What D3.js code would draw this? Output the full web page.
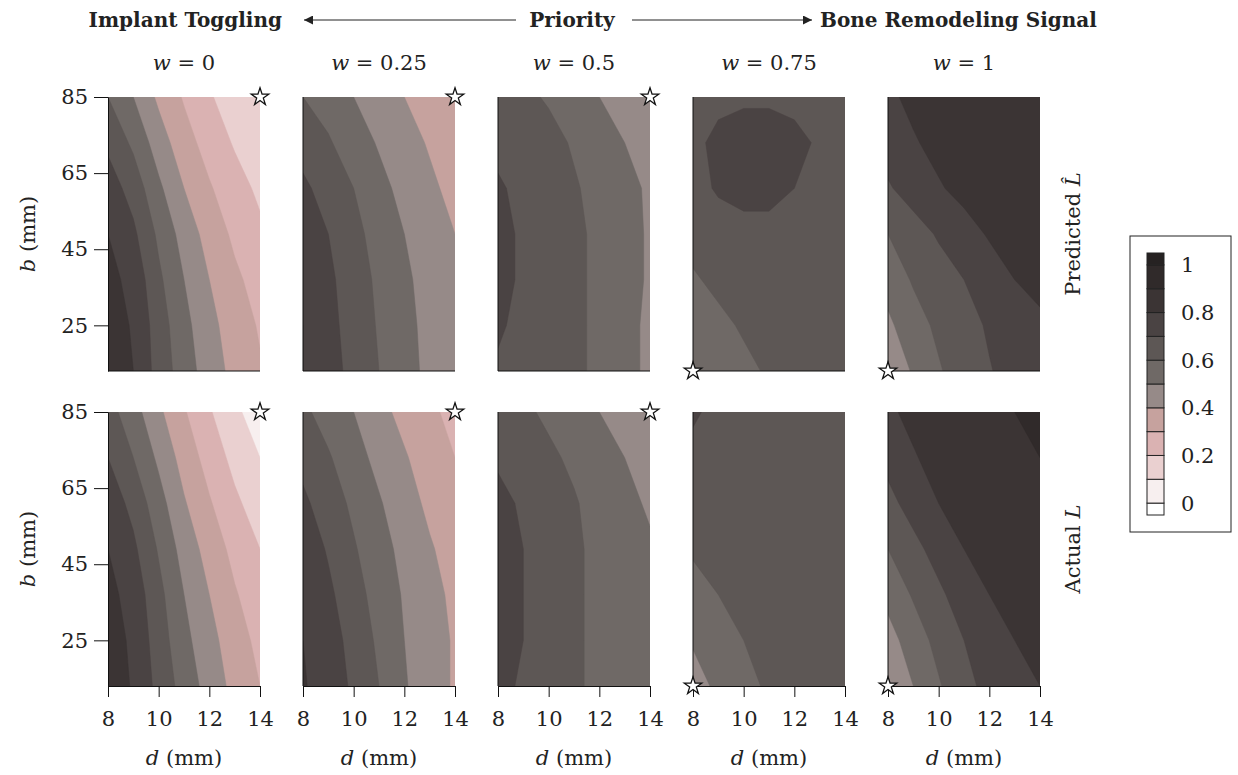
<!DOCTYPE html>
<html>
<head>
<meta charset="utf-8">
<script src="https://cdn.jsdelivr.net/npm/d3@7"></script>
<style>
  body { margin: 0; background: #fff; }
  text { font-family: "DejaVu Serif", "Liberation Serif", serif; fill: #222; }
</style>
</head>
<body>
<svg id="chart" width="1238" height="775"></svg>
<script>
// ---- data ----
const weights = ["0", "0.25", "0.5", "0.75", "1"];
const dGrid = [8, 9, 10, 11, 12, 13, 14];          // columns of each grid
const bGrid = [85, 73, 61, 49, 37, 25, 13];        // rows of each grid, top to bottom
const xTicks = [8, 10, 12, 14];
const yTicks = [25, 45, 65, 85];
const levels = [-0.05, 0, 0.1, 0.2, 0.3, 0.4, 0.5, 0.6, 0.7, 0.8, 0.9, 1.0];
const levelColors = ["#ffffff", "#f7efef", "#ead0d0", "#dab2b2", "#c6a29e", "#968a88",
                     "#6f6966", "#5d5755", "#4a4343", "#3b3434", "#302a2a", "#262222"];
const cbTicks = [0, 0.2, 0.4, 0.6, 0.8, 1];
const optimum = [[14, 85], [14, 85], [14, 85], [8, 13], [8, 13]];

// predicted L-hat, one 7x7 grid per w
const predicted = [
  [[0.60, 0.50, 0.38, 0.29, 0.21, 0.15, 0.10],
   [0.68, 0.58, 0.45, 0.34, 0.26, 0.19, 0.14],
   [0.75, 0.66, 0.52, 0.40, 0.31, 0.24, 0.18],
   [0.80, 0.72, 0.58, 0.46, 0.36, 0.28, 0.22],
   [0.83, 0.77, 0.62, 0.50, 0.40, 0.32, 0.26],
   [0.85, 0.79, 0.65, 0.53, 0.43, 0.35, 0.29],
   [0.86, 0.80, 0.66, 0.55, 0.45, 0.37, 0.31]],
  [[0.60, 0.56, 0.50, 0.45, 0.40, 0.35, 0.30],
   [0.66, 0.61, 0.55, 0.49, 0.44, 0.39, 0.34],
   [0.72, 0.66, 0.60, 0.53, 0.47, 0.42, 0.37],
   [0.77, 0.70, 0.63, 0.56, 0.50, 0.44, 0.40],
   [0.79, 0.72, 0.65, 0.58, 0.52, 0.46, 0.42],
   [0.80, 0.73, 0.66, 0.59, 0.53, 0.47, 0.43],
   [0.80, 0.74, 0.67, 0.60, 0.53, 0.48, 0.44]],
  [[0.64, 0.62, 0.59, 0.55, 0.50, 0.46, 0.43],
   [0.68, 0.66, 0.63, 0.59, 0.54, 0.50, 0.47],
   [0.71, 0.68, 0.65, 0.61, 0.57, 0.52, 0.49],
   [0.72, 0.69, 0.66, 0.62, 0.58, 0.53, 0.49],
   [0.72, 0.69, 0.66, 0.62, 0.58, 0.53, 0.49],
   [0.71, 0.68, 0.66, 0.62, 0.58, 0.53, 0.48],
   [0.69, 0.67, 0.65, 0.62, 0.58, 0.53, 0.48]],
  [[0.66, 0.68, 0.69, 0.69, 0.68, 0.66, 0.64],
   [0.68, 0.72, 0.73, 0.73, 0.72, 0.69, 0.65],
   [0.67, 0.71, 0.72, 0.72, 0.70, 0.67, 0.65],
   [0.63, 0.66, 0.68, 0.68, 0.67, 0.66, 0.65],
   [0.59, 0.62, 0.64, 0.66, 0.66, 0.65, 0.65],
   [0.56, 0.58, 0.61, 0.63, 0.64, 0.65, 0.65],
   [0.53, 0.55, 0.58, 0.61, 0.63, 0.65, 0.65]],
  [[0.78, 0.825, 0.85, 0.87, 0.88, 0.89, 0.89],
   [0.74, 0.79, 0.83, 0.86, 0.87, 0.88, 0.89],
   [0.69, 0.74, 0.79, 0.83, 0.86, 0.87, 0.88],
   [0.60, 0.66, 0.71, 0.76, 0.81, 0.84, 0.86],
   [0.54, 0.61, 0.66, 0.70, 0.75, 0.80, 0.83],
   [0.48, 0.56, 0.62, 0.67, 0.71, 0.75, 0.78],
   [0.43, 0.51, 0.59, 0.65, 0.695, 0.73, 0.76]]
];

// actual L, one 7x7 grid per w
const actual = [
  [[0.64, 0.54, 0.42, 0.31, 0.21, 0.12, 0.05],
   [0.70, 0.60, 0.48, 0.36, 0.26, 0.17, 0.10],
   [0.76, 0.67, 0.54, 0.41, 0.31, 0.22, 0.15],
   [0.80, 0.72, 0.59, 0.46, 0.36, 0.27, 0.20],
   [0.83, 0.76, 0.63, 0.50, 0.40, 0.31, 0.24],
   [0.85, 0.78, 0.65, 0.53, 0.43, 0.35, 0.27],
   [0.86, 0.79, 0.67, 0.56, 0.46, 0.37, 0.30]],
  [[0.62, 0.56, 0.50, 0.43, 0.37, 0.32, 0.27],
   [0.67, 0.61, 0.54, 0.47, 0.41, 0.35, 0.30],
   [0.72, 0.65, 0.58, 0.51, 0.44, 0.38, 0.33],
   [0.76, 0.69, 0.61, 0.54, 0.47, 0.41, 0.36],
   [0.78, 0.72, 0.64, 0.56, 0.49, 0.43, 0.38],
   [0.80, 0.74, 0.67, 0.58, 0.50, 0.44, 0.39],
   [0.81, 0.75, 0.685, 0.60, 0.51, 0.44, 0.39]],
  [[0.66, 0.62, 0.58, 0.54, 0.50, 0.46, 0.42],
   [0.69, 0.66, 0.62, 0.58, 0.54, 0.50, 0.46],
   [0.72, 0.69, 0.65, 0.61, 0.56, 0.52, 0.49],
   [0.73, 0.70, 0.66, 0.62, 0.57, 0.53, 0.51],
   [0.73, 0.70, 0.66, 0.62, 0.57, 0.54, 0.52],
   [0.73, 0.70, 0.66, 0.62, 0.57, 0.54, 0.52],
   [0.72, 0.69, 0.66, 0.62, 0.57, 0.54, 0.52]],
  [[0.71, 0.68, 0.67, 0.66, 0.66, 0.66, 0.66],
   [0.68, 0.67, 0.67, 0.66, 0.66, 0.66, 0.66],
   [0.65, 0.66, 0.66, 0.66, 0.66, 0.66, 0.66],
   [0.61, 0.63, 0.65, 0.66, 0.66, 0.66, 0.66],
   [0.57, 0.60, 0.63, 0.65, 0.66, 0.66, 0.66],
   [0.51, 0.56, 0.60, 0.63, 0.65, 0.66, 0.66],
   [0.46, 0.52, 0.58, 0.61, 0.64, 0.65, 0.66]],
  [[0.78, 0.83, 0.86, 0.88, 0.89, 0.90, 0.90],
   [0.73, 0.79, 0.84, 0.87, 0.88, 0.89, 0.90],
   [0.67, 0.74, 0.80, 0.84, 0.87, 0.88, 0.89],
   [0.60, 0.67, 0.74, 0.80, 0.84, 0.87, 0.88],
   [0.53, 0.61, 0.68, 0.75, 0.80, 0.84, 0.86],
   [0.46, 0.55, 0.63, 0.70, 0.76, 0.80, 0.83],
   [0.40, 0.50, 0.59, 0.67, 0.73, 0.77, 0.80]]
];

// ---- layout ----
const svg = d3.select("#chart");
const panelW = 152, panelH = 274;
const colX = i => 108 + i * 195;
const rowY = [97, 412];

const x = d3.scaleLinear().domain([8, 14]).range([0, panelW]);
const y = d3.scaleLinear().domain([13, 85]).range([panelH, 0]);

const contours = d3.contours()
    .size([dGrid.length, bGrid.length])
    .thresholds(levels);

// grid cell centres sit at i + 0.5 in contour space
const gridProj = d3.geoTransform({
    point: function (px, py) {
        let d = dGrid[0] + (px - 0.5) * (dGrid[1] - dGrid[0]);
        let b = bGrid[0] + (py - 0.5) * (bGrid[1] - bGrid[0]);
        this.stream.point(x(d), y(b));
    }
});
const path = d3.geoPath(gridProj);

svg.append("defs").append("clipPath")
    .attr("id", "panel-clip")
    .append("rect")
    .attr("width", panelW)
    .attr("height", panelH);

const star = d3.symbol().type(d3.symbolStar).size(95);

[predicted, actual].forEach(function (rowData, r) {
    rowData.forEach(function (grid, c) {
        let g = svg.append("g")
            .attr("transform", "translate(" + colX(c) + "," + rowY[r] + ")");

        g.append("g")
            .attr("clip-path", "url(#panel-clip)")
            .selectAll("path")
            .data(contours(grid.flat()))
            .join("path")
            .attr("d", path)
            .attr("fill", (d, i) => levelColors[i])
            .attr("stroke", (d, i) => levelColors[i])
            .attr("stroke-width", 0.5);

        // left and bottom axis lines on every panel
        if (c === 0) {
            g.append("g")
                .attr("class", "y-axis")
                .call(d3.axisLeft(y).tickValues(yTicks).tickSize(14).tickSizeOuter(0).tickPadding(6));
        } else {
            g.append("line")
                .attr("x1", 0).attr("x2", 0)
                .attr("y1", 0).attr("y2", panelH)
                .attr("stroke", "#111");
        }
        if (r === 1) {
            g.append("g")
                .attr("class", "x-axis")
                .attr("transform", "translate(0," + panelH + ")")
                .call(d3.axisBottom(x).tickValues(xTicks).tickFormat(d3.format("d"))
                    .tickSize(11).tickSizeOuter(0).tickPadding(14));
        } else {
            g.append("line")
                .attr("x1", 0).attr("x2", panelW)
                .attr("y1", panelH).attr("y2", panelH)
                .attr("stroke", "#111");
        }

        g.append("path")
            .attr("d", star)
            .attr("transform", "translate(" + x(optimum[c][0]) + "," + y(optimum[c][1]) + ")")
            .attr("fill", "#fff")
            .attr("stroke", "#111")
            .attr("stroke-width", 1.3);
    });
});

svg.selectAll(".y-axis text, .x-axis text")
    .style("font-family", "DejaVu Serif, serif")
    .style("font-size", "21px")
    .attr("fill", "#222");
svg.selectAll(".y-axis path, .x-axis path, .y-axis line, .x-axis line")
    .attr("stroke", "#111");

// column titles
weights.forEach(function (w, c) {
    let t = svg.append("text")
        .attr("x", colX(c) + panelW / 2)
        .attr("y", 70)
        .attr("text-anchor", "middle")
        .style("font-size", "21px");
    t.append("tspan").style("font-style", "italic").text("w");
    t.append("tspan").text(" = " + w);
});

// x labels
weights.forEach(function (w, c) {
    let t = svg.append("text")
        .attr("x", colX(c) + panelW / 2)
        .attr("y", 765)
        .attr("text-anchor", "middle")
        .style("font-size", "21px");
    t.append("tspan").style("font-style", "italic").text("d");
    t.append("tspan").text(" (mm)");
});

// y labels
rowY.forEach(function (top) {
    let t = svg.append("text")
        .attr("transform", "translate(35," + (top + panelH / 2) + ") rotate(-90)")
        .attr("text-anchor", "middle")
        .style("font-size", "21px");
    t.append("tspan").style("font-style", "italic").text("b");
    t.append("tspan").text(" (mm)");
});

// row labels on the right
const rowNames = [["Predicted ", "L\u0302"], ["Actual ", "L"]];
rowNames.forEach(function (nm, r) {
    let t = svg.append("text")
        .attr("transform", "translate(1080," + (rowY[r] + panelH / 2) + ") rotate(-90)")
        .attr("text-anchor", "middle")
        .style("font-size", "21px");
    t.append("tspan").text(nm[0]);
    t.append("tspan").style("font-style", "italic").text(nm[1]);
});

// header with arrows
svg.append("defs").selectAll("marker")
    .data(["arrow-head"])
    .join("marker")
    .attr("id", d => d)
    .attr("viewBox", "0 -5 10 10")
    .attr("refX", 10)
    .attr("refY", 0)
    .attr("markerWidth", 14)
    .attr("markerHeight", 9)
    .attr("markerUnits", "userSpaceOnUse")
    .attr("orient", "auto")
    .append("path")
    .attr("d", "M0,-5L10,0L0,5Z")
    .attr("fill", "#222");

const headY = 20;
svg.append("text").attr("x", 282).attr("y", headY + 7).attr("text-anchor", "end")
    .style("font-size", "20px").style("font-weight", "bold").text("Implant Toggling");
svg.append("text").attr("x", 572).attr("y", headY + 7).attr("text-anchor", "middle")
    .style("font-size", "20px").style("font-weight", "bold").text("Priority");
svg.append("text").attr("x", 820).attr("y", headY + 7).attr("text-anchor", "start")
    .style("font-size", "20px").style("font-weight", "bold").text("Bone Remodeling Signal");
svg.append("line").attr("x1", 516).attr("x2", 304).attr("y1", headY).attr("y2", headY)
    .attr("stroke", "#222").attr("stroke-width", 1).attr("marker-end", "url(#arrow-head)");
svg.append("line").attr("x1", 632).attr("x2", 812).attr("y1", headY).attr("y2", headY)
    .attr("stroke", "#222").attr("stroke-width", 1).attr("marker-end", "url(#arrow-head)");

// colorbar
const yc = d3.scaleLinear().domain([-0.05, 1.05]).range([515, 253]);
const cb = svg.append("g");
cb.append("rect")
    .attr("x", 1130).attr("y", 236).attr("width", 101).attr("height", 296)
    .attr("fill", "#fff").attr("stroke", "#222").attr("stroke-width", 1);
cb.selectAll(".band")
    .data(levels)
    .join("rect")
    .attr("class", "band")
    .attr("x", 1147)
    .attr("width", 17)
    .attr("y", (d, i) => yc(i < levels.length - 1 ? levels[i + 1] : 1.05))
    .attr("height", (d, i) => yc(d) - yc(i < levels.length - 1 ? levels[i + 1] : 1.05))
    .attr("fill", (d, i) => levelColors[i])
    .attr("stroke", "#222")
    .attr("stroke-width", 1);
cb.selectAll(".cb-label")
    .data(cbTicks)
    .join("text")
    .attr("class", "cb-label")
    .attr("x", 1181)
    .attr("y", d => yc(d))
    .attr("dy", "0.36em")
    .style("font-size", "21px")
    .text(d => d3.format("~g")(d));
</script>
</body>
</html>
